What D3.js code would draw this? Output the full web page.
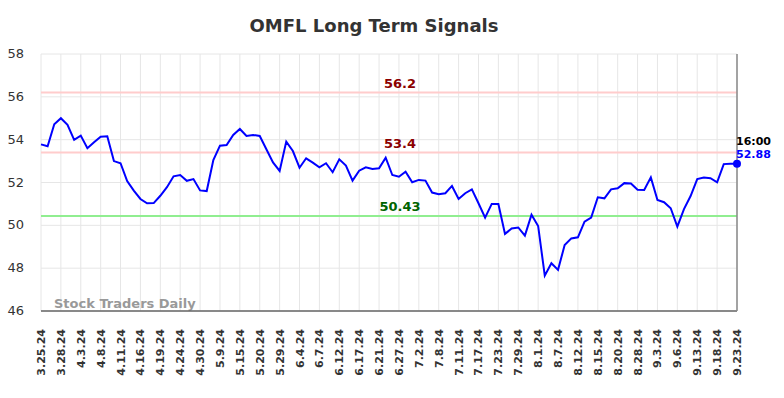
<!DOCTYPE html>
<html><head><meta charset="utf-8">
<script src="https://cdn.jsdelivr.net/npm/d3@7/dist/d3.min.js"></script>
<style>body{margin:0;background:#fff}svg{display:block;font-family:"DejaVu Sans",sans-serif}</style>
</head><body><svg id="c" width="784" height="398"></svg>
<script>
const tickLabels = ["3.25.24","3.28.24","4.3.24","4.8.24","4.11.24","4.16.24","4.19.24","4.24.24","4.30.24","5.9.24","5.15.24","5.20.24","5.29.24","6.4.24","6.7.24","6.12.24","6.17.24","6.21.24","6.27.24","7.2.24","7.8.24","7.11.24","7.17.24","7.23.24","7.29.24","8.1.24","8.7.24","8.12.24","8.15.24","8.20.24","8.28.24","9.3.24","9.6.24","9.13.24","9.18.24","9.23.24"];
const values = [53.78,53.69,54.72,55.0,54.69,53.99,54.19,53.6,53.88,54.14,54.16,53.0,52.9,52.07,51.62,51.23,51.03,51.04,51.38,51.78,52.29,52.35,52.08,52.16,51.63,51.6,53.05,53.72,53.75,54.22,54.5,54.17,54.22,54.17,53.55,52.94,52.54,53.91,53.47,52.69,53.13,52.93,52.71,52.9,52.48,53.08,52.79,52.09,52.55,52.71,52.63,52.66,53.16,52.35,52.27,52.5,52.01,52.12,52.09,51.53,51.45,51.5,51.84,51.23,51.5,51.68,51.03,50.36,51.0,51.0,49.6,49.85,49.9,49.52,50.5,49.97,47.65,48.23,47.92,49.08,49.39,49.44,50.17,50.36,51.31,51.26,51.68,51.73,51.97,51.95,51.66,51.65,52.24,51.18,51.08,50.8,49.94,50.76,51.37,52.16,52.23,52.2,52.01,52.86,52.88,52.88];
const yTicks = [46,48,50,52,54,56,58];
const levels = [{v:56.2,label:"56.2"},{v:53.4,label:"53.4"},{v:50.43,label:"50.43"}];
const lastTime = "16:00";

const svg = d3.select("#c");
const L=41,R=737,T=54,B=311;
const x = d3.scaleLinear().domain([0, values.length-1]).range([L,R]);
const y = d3.scaleLinear().domain([46,58]).range([B,T]);
const step = 3;

// grid
svg.append("g").selectAll("line").data(yTicks).join("line")
  .attr("x1",L).attr("x2",R).attr("y1",d=>y(d)).attr("y2",d=>y(d))
  .attr("stroke","#e6e6e6").attr("stroke-width",1);
svg.append("g").selectAll("line").data(tickLabels).join("line")
  .attr("x1",(d,i)=>x(Math.min(i*step,values.length-1))).attr("x2",(d,i)=>x(Math.min(i*step,values.length-1)))
  .attr("y1",T).attr("y2",B).attr("stroke","#e6e6e6").attr("stroke-width",1);

// title
svg.append("text").attr("x",374).attr("y",32).attr("text-anchor","middle")
  .attr("font-size",18).attr("font-weight","bold").attr("fill","#333").text("OMFL Long Term Signals");

// y labels
svg.append("g").selectAll("text").data(yTicks).join("text")
  .attr("x",24).attr("y",d=>y(d)+4).attr("text-anchor","end")
  .attr("font-size",13).attr("fill","#333").text(d=>d);

// levels
const lvlColor = {"56.2":["#ffcccc","#8b0000"],"53.4":["#ffcccc","#8b0000"],"50.43":["#90ee90","#006400"]};
levels.forEach(l=>{
  svg.append("line").attr("x1",L).attr("x2",R).attr("y1",y(l.v)).attr("y2",y(l.v))
    .attr("stroke",lvlColor[l.label][0]).attr("stroke-width",2);
  svg.append("text").attr("x",400).attr("y",y(l.v)-5).attr("text-anchor","middle")
    .attr("font-size",13).attr("font-weight","bold").attr("fill",lvlColor[l.label][1]).text(l.label);
});

// watermark
svg.append("text").attr("x",54).attr("y",308).attr("font-size",13).attr("font-weight","bold")
  .attr("fill","#999").text("Stock Traders Daily");

// axes lines
svg.append("line").attr("x1",L).attr("x2",R).attr("y1",B).attr("y2",B).attr("stroke","#666").attr("stroke-width",1.5);
svg.append("line").attr("x1",R).attr("x2",R).attr("y1",T).attr("y2",B).attr("stroke","#888").attr("stroke-width",1.5);

// x labels
svg.append("g").selectAll("text").data(tickLabels).join("text")
  .attr("transform",(d,i)=>`translate(${x(Math.min(i*step,values.length-1))+4},329) rotate(-90)`)
  .attr("text-anchor","end").attr("font-size",11).attr("font-weight","bold").attr("fill","#333").text(d=>d);

// line
svg.append("path").datum(values)
  .attr("d",d3.line().x((d,i)=>x(i)).y(d=>y(d)))
  .attr("fill","none").attr("stroke","#0000ff").attr("stroke-width",2);

// end point
const li = values.length-1;
svg.append("circle").attr("cx",x(li)).attr("cy",y(values[li])).attr("r",4).attr("fill","#0000ff");
svg.append("text").attr("x",x(li)-1).attr("y",y(values[li])-19).attr("font-size",11).attr("font-weight","bold").attr("fill","#000").text(lastTime);
svg.append("text").attr("x",x(li)-1).attr("y",y(values[li])-6).attr("font-size",11).attr("font-weight","bold").attr("fill","#0000ff").text(values[li].toFixed(2));
</script></body></html>
